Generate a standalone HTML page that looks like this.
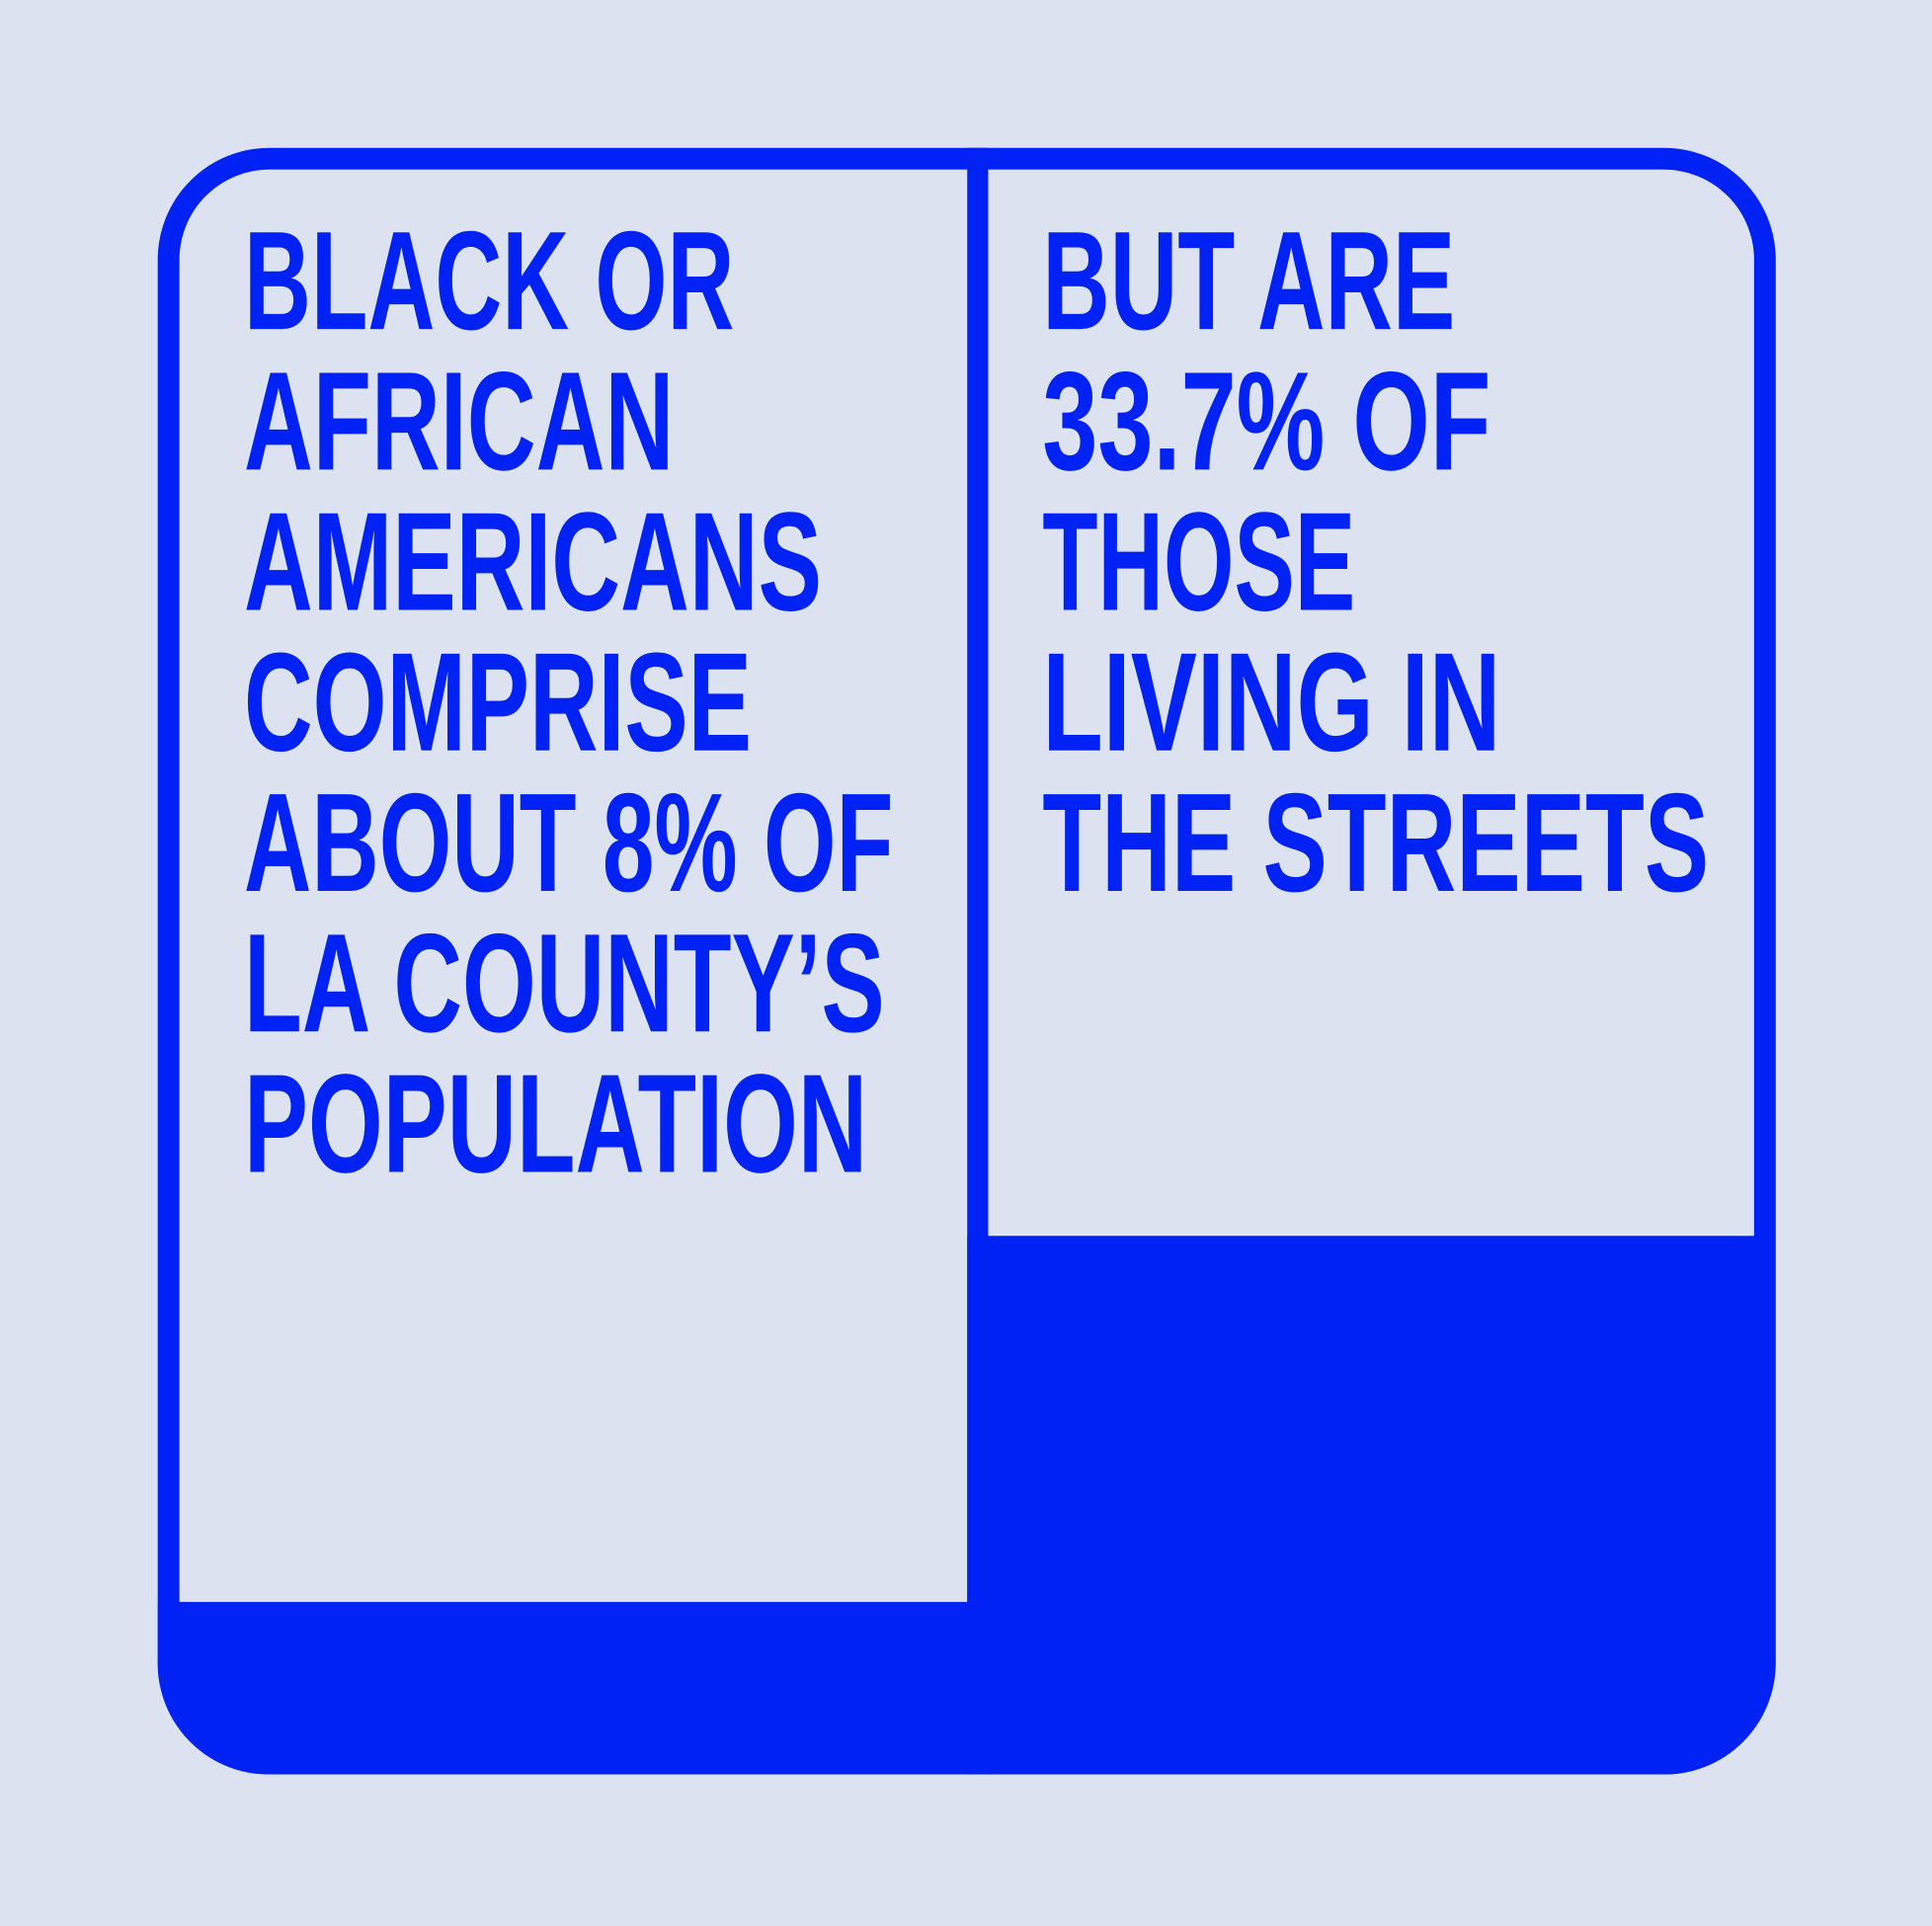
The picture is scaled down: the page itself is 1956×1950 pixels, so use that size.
<!DOCTYPE html>
<html><head><meta charset="utf-8"><style>
html,body{margin:0;padding:0;background:#dce2ef;}
svg{display:block}
text{font-family:"Liberation Sans",sans-serif;font-weight:bold;fill:#0022f5;font-size:114px}
</style></head><body>
<svg id="chart" width="1956" height="1950" viewBox="0 0 1568 1563" preserveAspectRatio="none" xmlns="http://www.w3.org/2000/svg">
<rect x="0" y="0" width="1568" height="1563" fill="#dce2ef"/>
<defs><clipPath id="clip"><rect x="128" y="120" width="1313" height="1320" rx="90"/></clipPath></defs>
<g id="fills" clip-path="url(#clip)"></g>
<rect x="136.8" y="128.8" width="1295.6" height="1302.4" rx="82" fill="none" stroke="#0022f5" stroke-width="17.6"/>
<rect x="785" y="120" width="17" height="1320" fill="#0022f5"/>
<g id="texts"></g>
</svg>
<script>
const categories = ["LA County population", "Living in the streets"];
const values = [8, 33.7];
const leftLines = ["BLACK OR","AFRICAN","AMERICANS","COMPRISE","ABOUT 8% OF","LA COUNTY\u2019S","POPULATION"];
const rightLines = ["BUT ARE","33.7% OF","THOSE","LIVING IN","THE STREETS"];
const leftWidths = [398,349,469,412,527,520,506];
const rightWidths = [335,364,254,372,541];

const ns = "http://www.w3.org/2000/svg";
const base = 1392.5, H = 1156;
function y(v){ return base - v/100*H; }
const cols = [[128,802],[785,1441]];
const fills = document.getElementById('fills');
values.forEach((v,i)=>{
  const r = document.createElementNS(ns,'rect');
  r.setAttribute('x', cols[i][0]);
  r.setAttribute('width', cols[i][1]-cols[i][0]);
  r.setAttribute('y', y(v));
  r.setAttribute('height', 1440 - y(v));
  r.setAttribute('fill', '#0022f5');
  
  
  fills.appendChild(r);
});
const texts = document.getElementById('texts');
function addLines(lines, widths, x, side){
  lines.forEach((t,i)=>{
    const el = document.createElementNS(ns,'text');
    el.setAttribute('x', x);
    el.setAttribute('y', 267 + i*114);
    el.setAttribute('textLength', widths[i]);
    el.setAttribute('lengthAdjust', 'spacingAndGlyphs');
    el.textContent = t;
    
    
    texts.appendChild(el);
  });
}
addLines(leftLines, leftWidths, 198, 'left');
addLines(rightLines, rightWidths, 846, 'right');
</script>
</body></html>
